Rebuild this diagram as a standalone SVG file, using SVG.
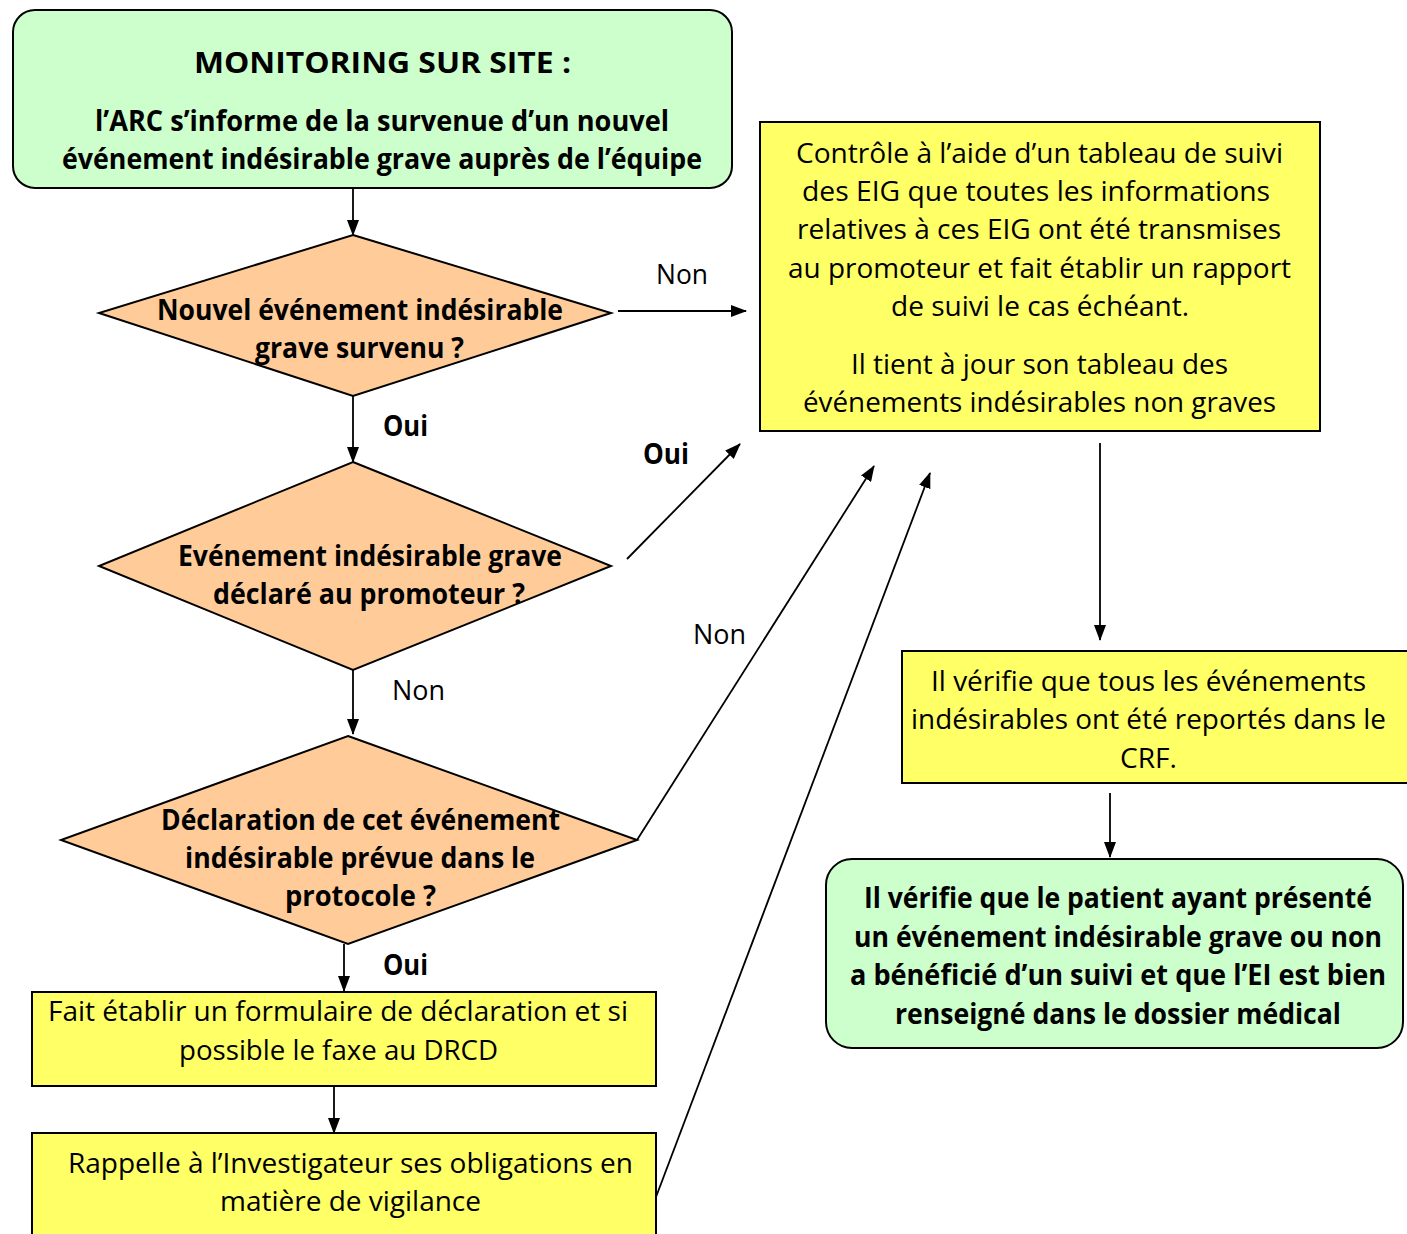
<svg xmlns="http://www.w3.org/2000/svg" width="1407" height="1234" viewBox="0 0 1407 1234">
<defs>
<marker id="ah" markerUnits="userSpaceOnUse" markerWidth="16" markerHeight="12" refX="15" refY="6" orient="auto">
<path d="M0,0 L16,6 L0,12 Z" fill="#000"/>
</marker>
<style>
.t{font-family:"Open Sans","Liberation Sans",sans-serif;font-size:28px;fill:#000;text-anchor:middle}
.b{font-weight:bold}
.green{fill:#ccffcc;stroke:#000;stroke-width:2}
.orange{fill:#ffcc99;stroke:#000;stroke-width:2}
.yellow{fill:#ffff66;stroke:#000;stroke-width:2}
.c{stroke:#000;stroke-width:1.8;fill:none;marker-end:url(#ah)}
</style>
</defs>
<rect width="1407" height="1234" fill="#fff"/>

<g id="start">
<rect class="green" x="13" y="10" width="719" height="178" rx="22"/>
<text class="t b" x="382.5" y="73" font-size="35" textLength="377" lengthAdjust="spacingAndGlyphs">MONITORING SUR SITE :</text>
<text class="t b" x="382" y="131" textLength="574" lengthAdjust="spacingAndGlyphs">l’ARC s’informe de la survenue d’un nouvel</text>
<text class="t b" x="382" y="169" textLength="640" lengthAdjust="spacingAndGlyphs">événement indésirable grave auprès de l’équipe</text>
</g>

<g id="d1">
<polygon class="orange" points="353,235 611,313 353,396 99,313"/>
<text class="t b" x="360" y="320" textLength="406" lengthAdjust="spacingAndGlyphs">Nouvel événement indésirable</text>
<text class="t b" x="359.5" y="358" textLength="209" lengthAdjust="spacingAndGlyphs">grave survenu ?</text>
</g>

<g id="d2">
<polygon class="orange" points="353,462 611,566 353,670 99,566"/>
<text class="t b" x="370" y="566" textLength="384" lengthAdjust="spacingAndGlyphs">Evénement indésirable grave</text>
<text class="t b" x="369" y="604" textLength="312" lengthAdjust="spacingAndGlyphs">déclaré au promoteur ?</text>
</g>

<g id="d3">
<polygon class="orange" points="348,736 637,840 348,944 61,840"/>
<text class="t b" x="360.5" y="830" textLength="399" lengthAdjust="spacingAndGlyphs">Déclaration de cet événement</text>
<text class="t b" x="360" y="868" textLength="350" lengthAdjust="spacingAndGlyphs">indésirable prévue dans le</text>
<text class="t b" x="360.5" y="906" textLength="151" lengthAdjust="spacingAndGlyphs">protocole ?</text>
</g>

<g id="form">
<rect class="yellow" x="32" y="992" width="624" height="94"/>
<text class="t" x="338" y="1021" textLength="580" lengthAdjust="spacingAndGlyphs">Fait établir un formulaire de déclaration et si</text>
<text class="t" x="338.5" y="1060" textLength="319" lengthAdjust="spacingAndGlyphs">possible le faxe au DRCD</text>
</g>

<g id="rappel">
<rect class="yellow" x="32" y="1133" width="624" height="120"/>
<text class="t" x="350.5" y="1173" textLength="565" lengthAdjust="spacingAndGlyphs">Rappelle à l’Investigateur ses obligations en</text>
<text class="t" x="350.5" y="1211" textLength="261" lengthAdjust="spacingAndGlyphs">matière de vigilance</text>
</g>

<g id="controle">
<rect class="yellow" x="760" y="122" width="560" height="309"/>
<text class="t" x="1039.5" y="163" textLength="487" lengthAdjust="spacingAndGlyphs">Contrôle à l’aide d’un tableau de suivi</text>
<text class="t" x="1036" y="201" textLength="468" lengthAdjust="spacingAndGlyphs">des EIG que toutes les informations</text>
<text class="t" x="1039" y="239" textLength="484" lengthAdjust="spacingAndGlyphs">relatives à ces EIG ont été transmises</text>
<text class="t" x="1039.5" y="278" textLength="503" lengthAdjust="spacingAndGlyphs">au promoteur et fait établir un rapport</text>
<text class="t" x="1040" y="316" textLength="298" lengthAdjust="spacingAndGlyphs">de suivi le cas échéant.</text>
<text class="t" x="1039.5" y="374" textLength="377" lengthAdjust="spacingAndGlyphs">Il tient à jour son tableau des</text>
<text class="t" x="1039.5" y="412" textLength="473" lengthAdjust="spacingAndGlyphs">événements indésirables non graves</text>
</g>

<g id="crf">
<rect class="yellow" x="902" y="651" width="520" height="132"/>
<text class="t" x="1148.5" y="691" textLength="435" lengthAdjust="spacingAndGlyphs">Il vérifie que tous les événements</text>
<text class="t" x="1148.5" y="729" textLength="475" lengthAdjust="spacingAndGlyphs">indésirables ont été reportés dans le</text>
<text class="t" x="1148.5" y="768" textLength="57" lengthAdjust="spacingAndGlyphs">CRF.</text>
</g>

<g id="patient">
<rect class="green" x="826" y="859" width="577" height="189" rx="26"/>
<text class="t b" x="1118" y="908" textLength="508" lengthAdjust="spacingAndGlyphs">Il vérifie que le patient ayant présenté</text>
<text class="t b" x="1118" y="947" textLength="528" lengthAdjust="spacingAndGlyphs">un événement indésirable grave ou non</text>
<text class="t b" x="1118" y="985" textLength="536" lengthAdjust="spacingAndGlyphs">a bénéficié d’un suivi et que l’EI est bien</text>
<text class="t b" x="1118" y="1024" textLength="446" lengthAdjust="spacingAndGlyphs">renseigné dans le dossier médical</text>
</g>

<g id="connectors">
<line class="c" x1="353" y1="188" x2="353" y2="235"/>
<line class="c" x1="618" y1="311" x2="746" y2="311"/>
<line class="c" x1="353" y1="396" x2="353" y2="462"/>
<line class="c" x1="627" y1="559" x2="740" y2="444"/>
<line class="c" x1="353" y1="670" x2="353" y2="734"/>
<line class="c" x1="637" y1="840" x2="874" y2="466"/>
<line class="c" x1="344" y1="944" x2="344" y2="991"/>
<line class="c" x1="334" y1="1086" x2="334" y2="1133"/>
<line class="c" x1="656" y1="1197" x2="930" y2="473"/>
<line class="c" x1="1100" y1="443" x2="1100" y2="640"/>
<line class="c" x1="1110" y1="793" x2="1110" y2="857"/>
<text class="t" x="682" y="284" textLength="52" lengthAdjust="spacingAndGlyphs">Non</text>
<text class="t b" x="405.5" y="436" textLength="45" lengthAdjust="spacingAndGlyphs">Oui</text>
<text class="t b" x="666" y="464" textLength="46" lengthAdjust="spacingAndGlyphs">Oui</text>
<text class="t" x="418.5" y="700" textLength="53" lengthAdjust="spacingAndGlyphs">Non</text>
<text class="t" x="719.5" y="644" textLength="53" lengthAdjust="spacingAndGlyphs">Non</text>
<text class="t b" x="405.5" y="975" textLength="45" lengthAdjust="spacingAndGlyphs">Oui</text>
</g>
</svg>
